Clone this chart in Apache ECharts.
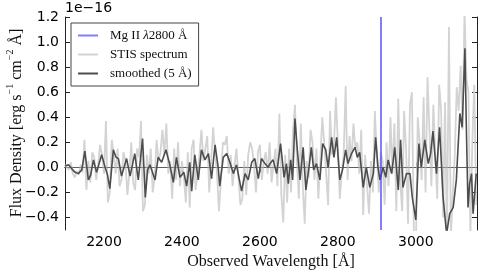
<!DOCTYPE html>
<html><head><meta charset="utf-8">
<script src="https://cdn.jsdelivr.net/npm/echarts@6/dist/echarts.min.js"></script>
<style>html,body{margin:0;padding:0;background:#fff}#c{width:480px;height:273px}</style>
</head><body><div id="c"></div>
<script>
// ---- data (flux in units of 1e-16 erg s^-1 cm^-2 Å^-1) ----
const xTicks = [2200, 2400, 2600, 2800, 3000];
const yTicks = [-0.4, -0.2, 0.0, 0.2, 0.4, 0.6, 0.8, 1.0, 1.2];
const mgIIObserved = 2911;
const stisWave = [
2100,2105,2110,2115,2120,2125,2130,2135,2140,2145,2150,2155,2160,2165,2170,2175,2180,2185,2190,2195,
2200,2205,2210,2215,2220,2225,2230,2235,2240,2245,2250,2255,2260,2265,2270,2275,2280,2285,2290,2295,
2300,2305,2310,2315,2320,2325,2330,2335,2340,2345,2350,2355,2360,2365,2370,2375,2380,2385,2390,2395,
2400,2405,2410,2415,2420,2425,2430,2435,2440,2445,2450,2455,2460,2465,2470,2475,2480,2485,2490,2495,
2500,2505,2510,2515,2520,2525,2530,2535,2540,2545,2550,2555,2560,2565,2570,2575,2580,2585,2590,2595,
2600,2605,2610,2615,2620,2625,2630,2635,2640,2645,2650,2655,2660,2665,2670,2675,2680,2685,2690,2695,
2700,2705,2710,2715,2720,2725,2730,2735,2740,2745,2750,2755,2760,2765,2770,2775,2780,2785,2790,2795,
2800,2805,2810,2815,2820,2825,2830,2835,2840,2845,2850,2855,2860,2865,2870,2875,2880,2885,2890,2895,
2900,2905,2910,2915,2920,2925,2930,2935,2940,2945,2950,2955,2960,2965,2970,2975,2980,2985,2990,2995,
3000,3005,3010,3015,3020,3025,3030,3035,3040,3045,3050,3055,3060,3065,3070,3075,3080,3085,3090,3095,
3100,3105,3110,3115,3120,3125,3130,3135,3140,3145,3150,3155];
const stisFlux = [
0.02,0.03,-0.02,0.04,-0.05,-0.08,-0.03,-0.06,0.02,-0.04,
0.22,-0.18,0.05,-0.12,0.12,0.08,-0.10,0.02,0.18,0.10,
-0.05,0.37,-0.28,-0.20,0.22,0.10,-0.05,0.15,-0.15,-0.10,
0.12,0.05,-0.22,-0.05,0.20,-0.12,-0.18,0.15,0.08,0.37,
-0.35,-0.30,0.10,-0.05,0.15,-0.20,-0.08,0.22,0.05,0.12,
0.30,0.10,0.35,-0.05,0.05,-0.25,0.15,-0.10,0.20,-0.15,
0.05,-0.08,-0.28,0.12,-0.32,0.15,0.22,-0.18,-0.05,0.10,
0.30,0.05,0.15,0.25,-0.20,0.05,0.32,0.12,-0.05,-0.35,
-0.10,0.20,0.18,0.25,-0.05,0.10,-0.15,0.02,0.15,-0.08,
-0.30,-0.25,0.05,-0.22,0.10,0.20,0.15,0.02,-0.20,0.12,
0.18,-0.10,0.05,0.12,-0.05,0.20,-0.12,0.02,0.15,-0.15,
0.43,-0.22,-0.44,0.10,-0.28,0.15,-0.20,0.30,0.50,0.05,
-0.25,0.35,-0.15,-0.45,0.05,-0.08,0.30,0.20,-0.10,0.15,
-0.25,0.05,0.40,0.20,-0.05,-0.30,0.45,0.10,0.18,0.56,
0.20,-0.25,-0.05,0.10,0.65,-0.10,0.25,0.05,0.35,0.15,
0.20,-0.05,0.30,-0.38,0.10,-0.15,-0.37,0.05,-0.20,0.45,
0.10,-0.20,0.12,0.05,-0.30,0.20,-0.15,0.40,-0.05,0.35,
-0.35,0.55,-0.10,-0.35,0.45,0.15,-0.45,0.50,0.60,-0.50,
-0.70,0.40,0.20,-0.10,0.56,-0.20,0.72,0.30,-0.15,0.50,
0.10,-0.25,0.66,0.45,-0.40,0.52,-0.60,1.12,-0.55,-0.20,
0.10,0.64,0.45,0.81,0.30,1.25,0.70,0.60,-0.55,0.20,
0.66,-0.30];
const smoothWave = [
2100,2109,2117,2126,2134,2143,2151,2160,2166,2173,2181,2194,2203,2209,2215,2224,2231,2237,2245,2258,
2267,2279,2288,2299,2306,2312,2318,2331,2339,2348,2359,2369,2378,2386,2395,2405,2412,2420,2425,2433,
2442,2450,2459,2468,2476,2485,2493,2497,2506,2515,2523,2532,2540,2553,2562,2570,2579,2587,2596,2604,
2613,2621,2626,2634,2643,2653,2662,2668,2673,2679,2684,2690,2696,2703,2711,2718,2726,2732,2738,2745,
2754,2761,2769,2775,2784,2790,2797,2805,2812,2820,2826,2835,2844,2850,2856,2865,2873,2882,2891,2897,
2903,2908,2916,2923,2929,2938,2946,2955,2961,2967,2976,2985,2991,3000,3008,3014,3023,3032,3038,3044,
3053,3061,3070,3079,3087,3096,3104,3113,3119,3126,3130,3134,3138,3143,3147,3151,3155];
const smoothFlux = [
0.01,0.02,-0.01,-0.04,-0.05,-0.02,0.13,-0.10,-0.06,0.06,-0.04,0.10,0.00,-0.06,-0.17,0.14,0.08,0.07,-0.07,0.07,
-0.07,0.11,-0.10,0.23,-0.24,-0.02,0.02,-0.10,0.08,0.04,0.14,0.02,-0.12,0.08,-0.08,-0.04,-0.15,0.04,-0.19,0.10,
-0.10,0.14,0.06,0.11,-0.09,0.18,0.00,-0.15,0.08,0.11,0.04,-0.05,0.02,-0.19,-0.05,-0.10,0.04,0.07,-0.09,0.07,
0.03,0.00,0.03,0.06,-0.05,0.19,-0.08,0.03,-0.13,0.06,-0.10,0.39,0.14,-0.10,0.16,-0.18,0.00,0.16,-0.02,0.03,
-0.10,0.19,0.14,0.00,0.24,0.08,0.24,-0.10,-0.02,0.14,0.03,0.11,0.16,0.08,0.12,-0.16,0.00,-0.16,-0.05,0.24,
0.00,-0.10,0.00,-0.08,0.06,-0.05,0.16,-0.18,0.22,-0.16,-0.05,-0.05,-0.24,-0.42,0.19,0.00,0.22,0.03,0.11,0.29,
-0.05,0.32,-0.24,-0.53,-0.37,-0.32,-0.10,0.43,0.32,0.95,0.27,-0.32,-0.13,-0.05,-0.37,-0.21,-0.05];

const zip = (a, b) => a.map((v, i) => [v, b[i]]);
const fmtY = v => (Math.abs(v) < 1e-9 ? '0.0' : v.toFixed(1)).replace('-', '\u2212');
const serif = 'Liberation Serif';
const sans = 'DejaVu Sans';
const axisCol = '#222';
const blue = 'rgba(60,60,255,0.65)';

const chart = echarts.init(document.getElementById('c'), null, {renderer: 'canvas'});
chart.setOption({
  animation: false,
  grid: {left: 65, right: 3, top: 17, bottom: 43, containLabel: false, outerBoundsMode: 'none'},
  xAxis: [{
    type: 'value', min: 2100, max: 3157, position: 'bottom',
    name: 'Observed Wavelength [Å]', nameLocation: 'middle', nameGap: 24,
    nameTextStyle: {fontFamily: serif, fontSize: 16, color: '#111'},
    axisLine: {show: true, lineStyle: {color: axisCol, width: 1}},
    axisTick: {show: true, inside: true, length: 5, customValues: xTicks, lineStyle: {color: axisCol}},
    axisLabel: {show: true, customValues: xTicks, margin: 5, fontFamily: sans, fontSize: 14, color: '#000',
      formatter: v => String(v)},
    splitLine: {show: false}
  }, {
    type: 'value', min: 2100, max: 3157, position: 'top',
    axisLine: {show: true, lineStyle: {color: axisCol, width: 1}},
    axisTick: {show: true, inside: true, length: 5, customValues: xTicks, lineStyle: {color: axisCol}},
    axisLabel: {show: false}, splitLine: {show: false}
  }],
  yAxis: [{
    type: 'value', min: -0.5, max: 1.2, position: 'left',
    axisLine: {show: true, lineStyle: {color: axisCol, width: 1}},
    axisTick: {show: true, inside: true, length: 5, customValues: yTicks, lineStyle: {color: axisCol}},
    axisLabel: {show: true, customValues: yTicks, margin: 6, fontFamily: sans, fontSize: 14, color: '#000', formatter: fmtY},
    splitLine: {show: false}
  }, {
    type: 'value', min: -0.5, max: 1.2, position: 'right',
    axisLine: {show: true, lineStyle: {color: axisCol, width: 1}},
    axisTick: {show: true, inside: true, length: 5, customValues: yTicks, lineStyle: {color: axisCol}},
    axisLabel: {show: false}, splitLine: {show: false}
  }],
  legend: {
    orient: 'vertical', left: 71, top: 23, padding: [6, 7, 6, 7], itemGap: 6,
    itemWidth: 20, itemHeight: 2, icon: 'rect',
    borderColor: '#444', borderWidth: 1, backgroundColor: '#fff',
    textStyle: {fontFamily: serif, fontSize: 13, color: '#111', padding: [0, 0, 0, 7],
      rich: {n: {fontFamily: serif, fontSize: 13, color: '#111'},
             i: {fontFamily: serif, fontSize: 13, fontStyle: 'italic', color: '#111'}}},
    formatter: n => n.indexOf('Mg II') === 0 ? '{n|Mg II }{i|λ}{n|2800 Å}' : n,
    data: ['Mg II λ2800 Å', 'STIS spectrum', 'smoothed (5 Å)']
  },
  series: [{
    name: 'STIS spectrum', type: 'line', symbol: 'none', showSymbol: false, z: 1,
    data: zip(stisWave, stisFlux),
    itemStyle: {color: '#d3d3d3'}, lineStyle: {color: '#d3d3d3', width: 1.8},
    markLine: {silent: true, symbol: 'none', label: {show: false}, z: 2,
      lineStyle: {color: '#777', width: 0.7, type: 'solid'},
      data: [{yAxis: 0}]}
  }, {
    name: 'smoothed (5 Å)', type: 'line', symbol: 'none', showSymbol: false, z: 3,
    data: zip(smoothWave, smoothFlux),
    itemStyle: {color: '#4d4d4d'}, lineStyle: {color: '#4d4d4d', width: 1.6}
  }, {
    name: 'Mg II λ2800 Å', type: 'line', symbol: 'none', showSymbol: false, z: 4, data: [],
    itemStyle: {color: blue}, lineStyle: {color: blue, width: 2},
    markLine: {silent: true, symbol: 'none', label: {show: false},
      lineStyle: {color: blue, width: 2, type: 'solid'},
      data: [{xAxis: mgIIObserved}]}
  }],
  graphic: [{
    type: 'text', left: 65, top: 1,
    style: {text: '1e\u221216', font: '14px "DejaVu Sans"', fill: '#000'}
  }, {
    type: 'text', x: 15, y: 123, rotation: Math.PI / 2,
    style: {
      text: '{t|Flux Density [erg s}{s|\u22121}{t| cm}{s|\u22122}{t| Å]}',
      align: 'center', verticalAlign: 'middle', fill: '#111',
      rich: {
        t: {fontFamily: serif, fontSize: 16, fill: '#111', lineHeight: 20, verticalAlign: 'bottom'},
        s: {fontFamily: serif, fontSize: 10, fill: '#111', lineHeight: 20, verticalAlign: 'top', padding: [0, 0, 6, 0]}
      }
    }
  }]
});
</script></body></html>
